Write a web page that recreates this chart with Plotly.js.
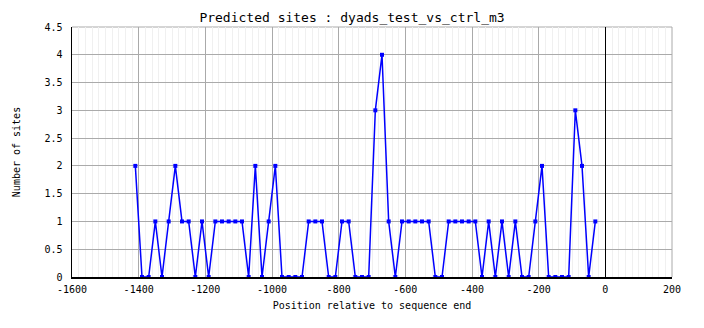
<!DOCTYPE html>
<html>
<head>
<meta charset="utf-8">
<script src="https://cdn.plot.ly/plotly-3.0.1.min.js"></script>
<style>html,body{margin:0;padding:0;background:#fff;}#chart{width:704px;height:328px;}</style>
</head>
<body>
<div id="chart"></div>
<script>
const positions = [-1410,-1390,-1370,-1350,-1330,-1310,-1290,-1270,-1250,-1230,
  -1210,-1190,-1170,-1150,-1130,-1110,-1090,-1070,-1050,-1030,
  -1010,-990,-970,-950,-930,-910,-890,-870,-850,-830,
  -810,-790,-770,-750,-730,-710,-690,-670,-650,-630,
  -610,-590,-570,-550,-530,-510,-490,-470,-450,-430,
  -410,-390,-370,-350,-330,-310,-290,-270,-250,-230,
  -210,-190,-170,-150,-130,-110,-90,-70,-50,-30];
const sites = [2,0,0,1,0,1,2,1,1,0,
  1,0,1,1,1,1,1,0,2,0,
  1,2,0,0,0,0,1,1,1,0,
  0,1,1,0,0,0,3,4,1,0,
  1,1,1,1,1,0,0,1,1,1,
  1,1,0,1,0,1,0,1,0,0,
  1,2,0,0,0,0,3,2,0,1];
const xTickVals = [-1600,-1400,-1200,-1000,-800,-600,-400,-200,0,200];
const xTickText = ['-1600','-1400','-1200','-1000','-800','-600','-400','-200','0','200'];
const yTickVals = [0,0.5,1,1.5,2,2.5,3,3.5,4,4.5];
const yTickText = ['0','0.5','1','1.5','2','2.5','3','3.5','4','4.5'];

const mono = 'DejaVu Sans Mono, monospace';
const trace = {
  x: positions, y: sites, type: 'scatter', mode: 'lines+markers',
  line: {color: '#0000ff', width: 1.5},
  marker: {color: '#0000ff', symbol: 'square', size: 4},
  hoverinfo: 'x+y'
};
const layout = {
  width: 704, height: 328,
  margin: {l: 72, r: 32, t: 27, b: 51},
  paper_bgcolor: '#fff', plot_bgcolor: '#fff',
  showlegend: false,
  font: {family: mono, size: 10, color: '#000'},
  title: {text: 'Predicted sites : dyads_test_vs_ctrl_m3', font: {family: mono, size: 13, color: '#000'},
          x: 0.5, xref: 'container', xanchor: 'center', y: 1 - 17/328, yref: 'container', yanchor: 'middle'},
  xaxis: {
    range: [-1600, 200], tickmode: 'array', tickvals: xTickVals, ticktext: xTickText,
    showgrid: true, gridcolor: '#aaaaaa', gridwidth: 1,
    minor: {dtick: 20, tick0: 0, showgrid: true, gridcolor: '#f0f0f0', gridwidth: 1, ticks: ''},
    zeroline: true, zerolinecolor: '#000', zerolinewidth: 1.5,
    showline: true, linecolor: '#000', linewidth: 1.5,
    ticks: '', ticklabelstandoff: 2, tickfont: {family: mono, size: 10, color: '#000'},
    title: {text: 'Position relative to sequence end', font: {family: mono, size: 10, color: '#000'}, standoff: 8},
    automargin: false, fixedrange: true
  },
  yaxis: {
    range: [0, 4.5], tickmode: 'array', tickvals: yTickVals, ticktext: yTickText,
    showgrid: true, gridcolor: '#aaaaaa', gridwidth: 1,
    zeroline: false,
    showline: true, linecolor: '#000', linewidth: 1.5,
    ticks: '', ticklabelstandoff: 6, tickfont: {family: mono, size: 10, color: '#000'},
    title: {text: 'Number of sites', font: {family: mono, size: 10, color: '#000'}, standoff: 22},
    automargin: false, fixedrange: true
  },
  shapes: [
    {type: 'line', xref: 'paper', yref: 'paper', x0: 0, x1: 1, y0: 1, y1: 1, line: {color: '#aaaaaa', width: 1}, layer: 'below'},
    {type: 'line', xref: 'paper', yref: 'paper', x0: 1, x1: 1, y0: 0, y1: 1, line: {color: '#aaaaaa', width: 1}, layer: 'below'}
  ]
};
Plotly.newPlot('chart', [trace], layout, {displayModeBar: false, staticPlot: true});
</script>
</body>
</html>
